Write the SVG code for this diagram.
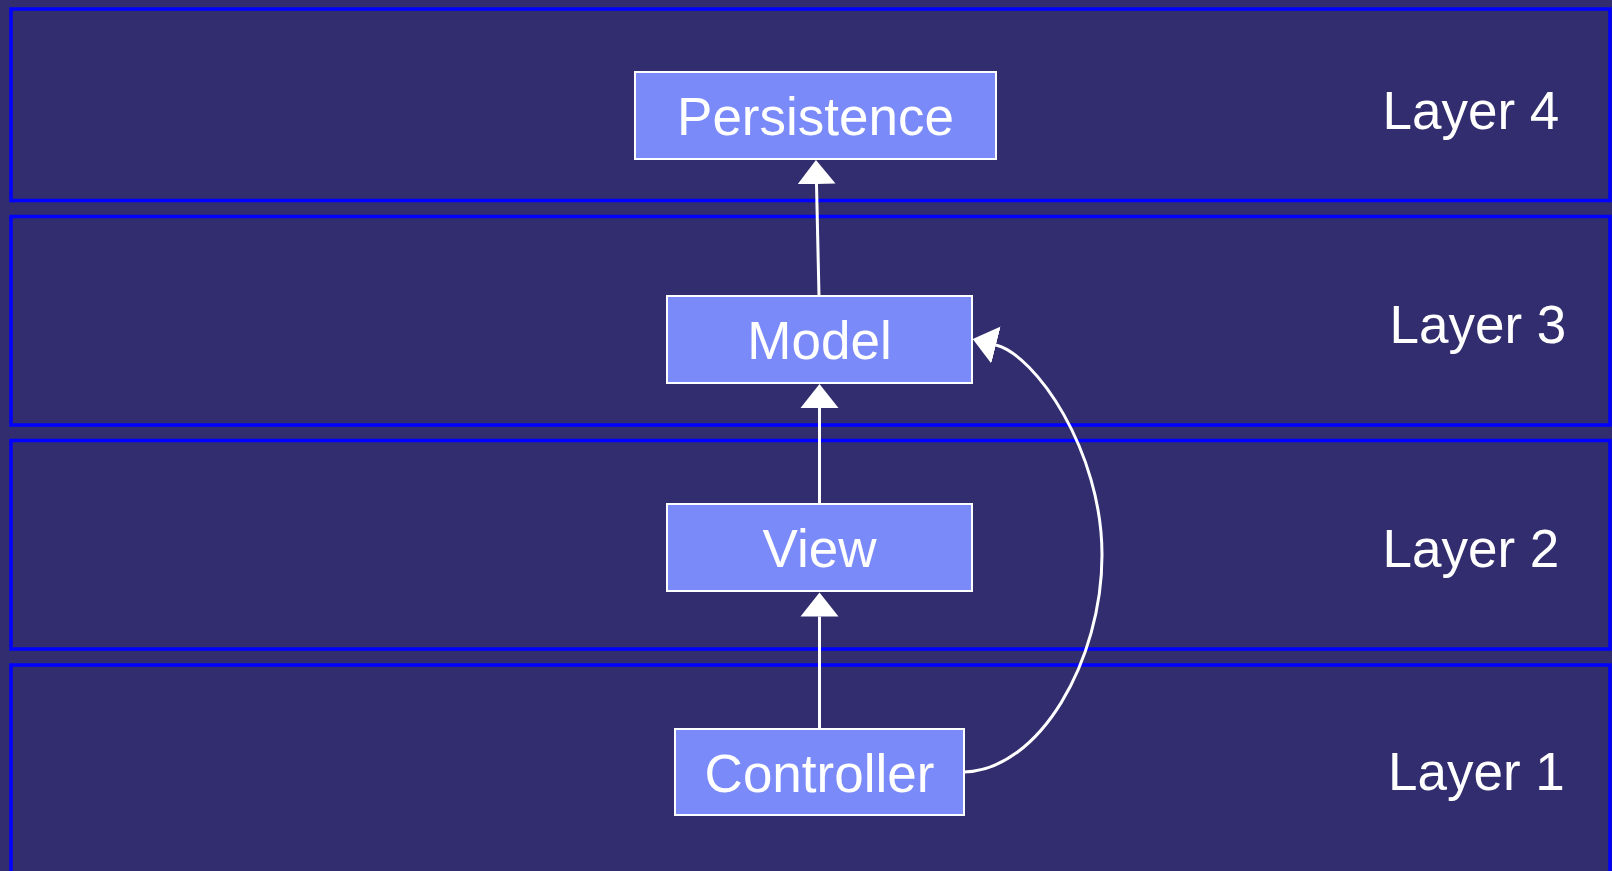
<svg xmlns="http://www.w3.org/2000/svg" width="1612" height="871" viewBox="0 0 1612 871">
<style>
.layer{fill:none;stroke:#0000ff;stroke-width:3.5}
.node rect{fill:#7a8af8;stroke:#ffffff;stroke-width:2}
.node text,.lbl{font-family:"Liberation Sans",Arial,sans-serif;font-size:53px;fill:#ffffff}
.node text{text-anchor:middle}
.conn{fill:none;stroke:#ffffff;stroke-width:3}
</style>
<defs>
<marker id="arr" markerUnits="userSpaceOnUse" markerWidth="26" markerHeight="40" viewBox="0 -20 26 40" refX="0" refY="0" orient="auto">
<path d="M0,-19 L24,0 L0,19 z" fill="#ffffff"/>
</marker>
</defs>
<rect x="0" y="0" width="1612" height="871" fill="#312d6e"/>
<g id="layers">
<g id="layer4"><rect class="layer" x="11" y="9" width="1599" height="191.5"/><text class="lbl" x="1382.5" y="128.5">Layer 4</text></g>
<g id="layer3"><rect class="layer" x="11" y="216.5" width="1599" height="208.5"/><text class="lbl" x="1389.5" y="343">Layer 3</text></g>
<g id="layer2"><rect class="layer" x="11" y="440.5" width="1599" height="208.5"/><text class="lbl" x="1382.5" y="567">Layer 2</text></g>
<g id="layer1"><rect class="layer" x="11" y="665" width="1599" height="260"/><text class="lbl" x="1388" y="790">Layer 1</text></g>
</g>
<g id="connectors">
<path class="conn" d="M819,296 L816.5,184" marker-end="url(#arr)"/>
<path class="conn" d="M819.5,504 L819.5,408" marker-end="url(#arr)"/>
<path class="conn" d="M819.5,729 L819.5,616.5" marker-end="url(#arr)"/>
<path class="conn" d="M964,772 C1040,770 1102,660 1102,555 C1102,450 1035,355 996,345" marker-end="url(#arr)"/>
</g>
<g id="persistence" class="node"><rect x="635" y="72" width="361" height="87"/><text x="815.5" y="135">Persistence</text></g>
<g id="model" class="node"><rect x="667" y="296" width="305" height="87"/><text x="819.5" y="359">Model</text></g>
<g id="view" class="node"><rect x="667" y="504" width="305" height="87"/><text x="819.5" y="567">View</text></g>
<g id="controller" class="node"><rect x="675" y="729" width="289" height="86"/><text x="819.5" y="791.5">Controller</text></g>
</svg>
